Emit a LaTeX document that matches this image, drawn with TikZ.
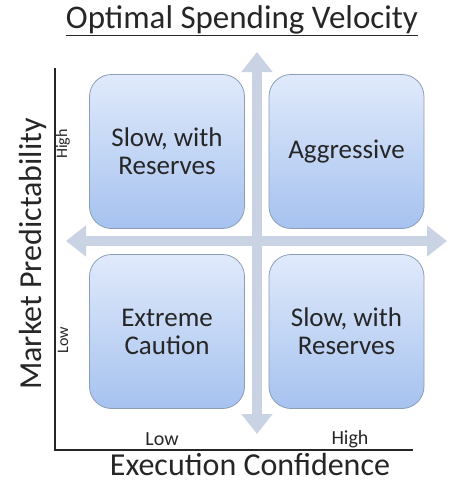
\documentclass[tikz,border=0pt]{standalone}
\usepackage{fontspec}
\setmainfont{Carlito}
\usetikzlibrary{arrows.meta}
\definecolor{boxtop}{HTML}{E0EAFB}
\definecolor{boxbot}{HTML}{A6C2EF}
\definecolor{boxedge}{HTML}{8C9DB8}
\definecolor{arr}{HTML}{C9D3E3}
\definecolor{txt}{HTML}{262626}
\tikzset{
  quad/.style={draw=boxedge, line width=0.8pt, rounded corners=22pt, top color=boxtop, bottom color=boxbot,
    minimum width=155pt, minimum height=154pt, inner sep=0pt, align=center, text=txt,
    font=\fontsize{27}{28}\selectfont},
  bigarrow/.style={arr, line width=10pt, {Triangle[width=30pt,length=20pt]}-{Triangle[width=30pt,length=20pt]}},
  axisline/.style={draw=txt, line width=1.4pt},
  small/.style={text=txt, font=\fontsize{20}{22}\selectfont},
  tiny/.style={text=txt, font=\fontsize{16}{18}\selectfont},
  axlabel/.style={text=txt, inner sep=0pt, font=\fontsize{32}{35}\selectfont},
}
\begin{document}
\begin{tikzpicture}[x=1pt,y=-1pt]
\useasboundingbox (0,0) rectangle (450,483);
% title
\node[text=txt, font=\fontsize{33}{36}\selectfont] (title) at (242,21) {\underline{Optimal Spending Velocity}};
% arrows
\coordinate (vt) at (257,52);
\coordinate (vb) at (257,434);
\coordinate (hl) at (66,241);
\coordinate (hr) at (447,241);
\draw[bigarrow] (vb) -- (vt);
\draw[bigarrow] (hl) -- (hr);
% axes
\coordinate (ytop) at (55,68);
\coordinate (orig) at (55,450);
\coordinate (xend) at (413,450);
\draw[axisline] (ytop) -- (orig) -- (xend);
% boxes
\node[quad] (tl) at (167,151.5) {Slow, with\\Reserves};
\node[quad] (tr) at (346.5,151.5) {Aggressive};
\node[quad] (bl) at (167,331.5) {Extreme\\Caution};
\node[quad] (br) at (346.5,331.5) {Slow, with\\Reserves};
% small labels
\node[tiny, rotate=90] (yhigh) at (63,144) {High};
\node[tiny, rotate=90] (ylow) at (63,340) {Low};
\node[small] (xlow) at (162,439) {Low};
\node[small] (xhigh) at (350,439) {High};
% axis labels
\node[axlabel, rotate=90] (ylab) at (33,254) {Market Predictability};
\node[axlabel] (xlab) at (250,465) {Execution Confidence};
\end{tikzpicture}
\end{document}
